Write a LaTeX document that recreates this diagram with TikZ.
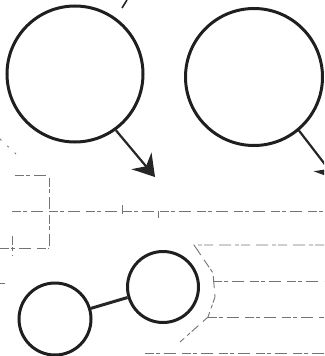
\documentclass[tikz,border=0pt]{standalone}
\usetikzlibrary{arrows.meta}
\begin{document}
\begin{tikzpicture}[x=1pt,y=-1pt,
  ring/.style={draw=black!88,line width=3pt,circle,inner sep=0pt},
  pointer/.style={draw=black!85,line width=2.2pt,-{Stealth[length=21pt,width=26pt,inset=7pt]}},
  faint/.style={draw=black!55,line width=0.9pt,dash pattern=on 9pt off 2pt on 4pt off 4pt on 12pt off 6pt},
  link/.style={draw=black!85,line width=3pt}]
\useasboundingbox (0,0) rectangle (324,356);
\clip (0,0) rectangle (324,356);
% faint background guide lines
\draw[faint] (12,211) -- (324,211);
\draw[faint] (15,175) -- (49,175) -- (49,248);
\draw[faint] (0,248) -- (49,248);
\draw[faint] (12,236) -- (12,256);
\draw[faint] (122,205) -- (122,216);
\draw[faint] (158,211) -- (158,218);
\draw[faint] (0,283) -- (5,283);
\draw[faint,dash pattern=on 2pt off 8pt] (0,139) -- (16,154);
\draw[faint] (324,245) -- (194,245) -- (213,273) -- (215,297) -- (208,317) -- (180,342);
\draw[faint] (213,281) -- (324,281);
\draw[faint] (208,317) -- (324,317);
\draw[faint] (145,353) -- (324,353);
% nodes
\node[ring,minimum size=136pt] (c1) at (75,74) {};
\node[ring,minimum size=137pt] (c2) at (254,77) {};
\node[ring,minimum size=72pt] (c3) at (55,319) {};
\node[ring,minimum size=71pt] (c4) at (163,287) {};
\coordinate (t1) at (155,177);
\coordinate (t2) at (337,180);
\coordinate (s0) at (122,8);
\coordinate (s1) at (127,0);
% connectors
\draw[pointer] (c1.-54) -- (t1);
\draw[pointer] (c2.-50) -- (t2);
\draw[link] (c3) -- (c4);
\draw[black!85,line width=1.6pt] (s0) -- (s1);
\end{tikzpicture}
\end{document}
